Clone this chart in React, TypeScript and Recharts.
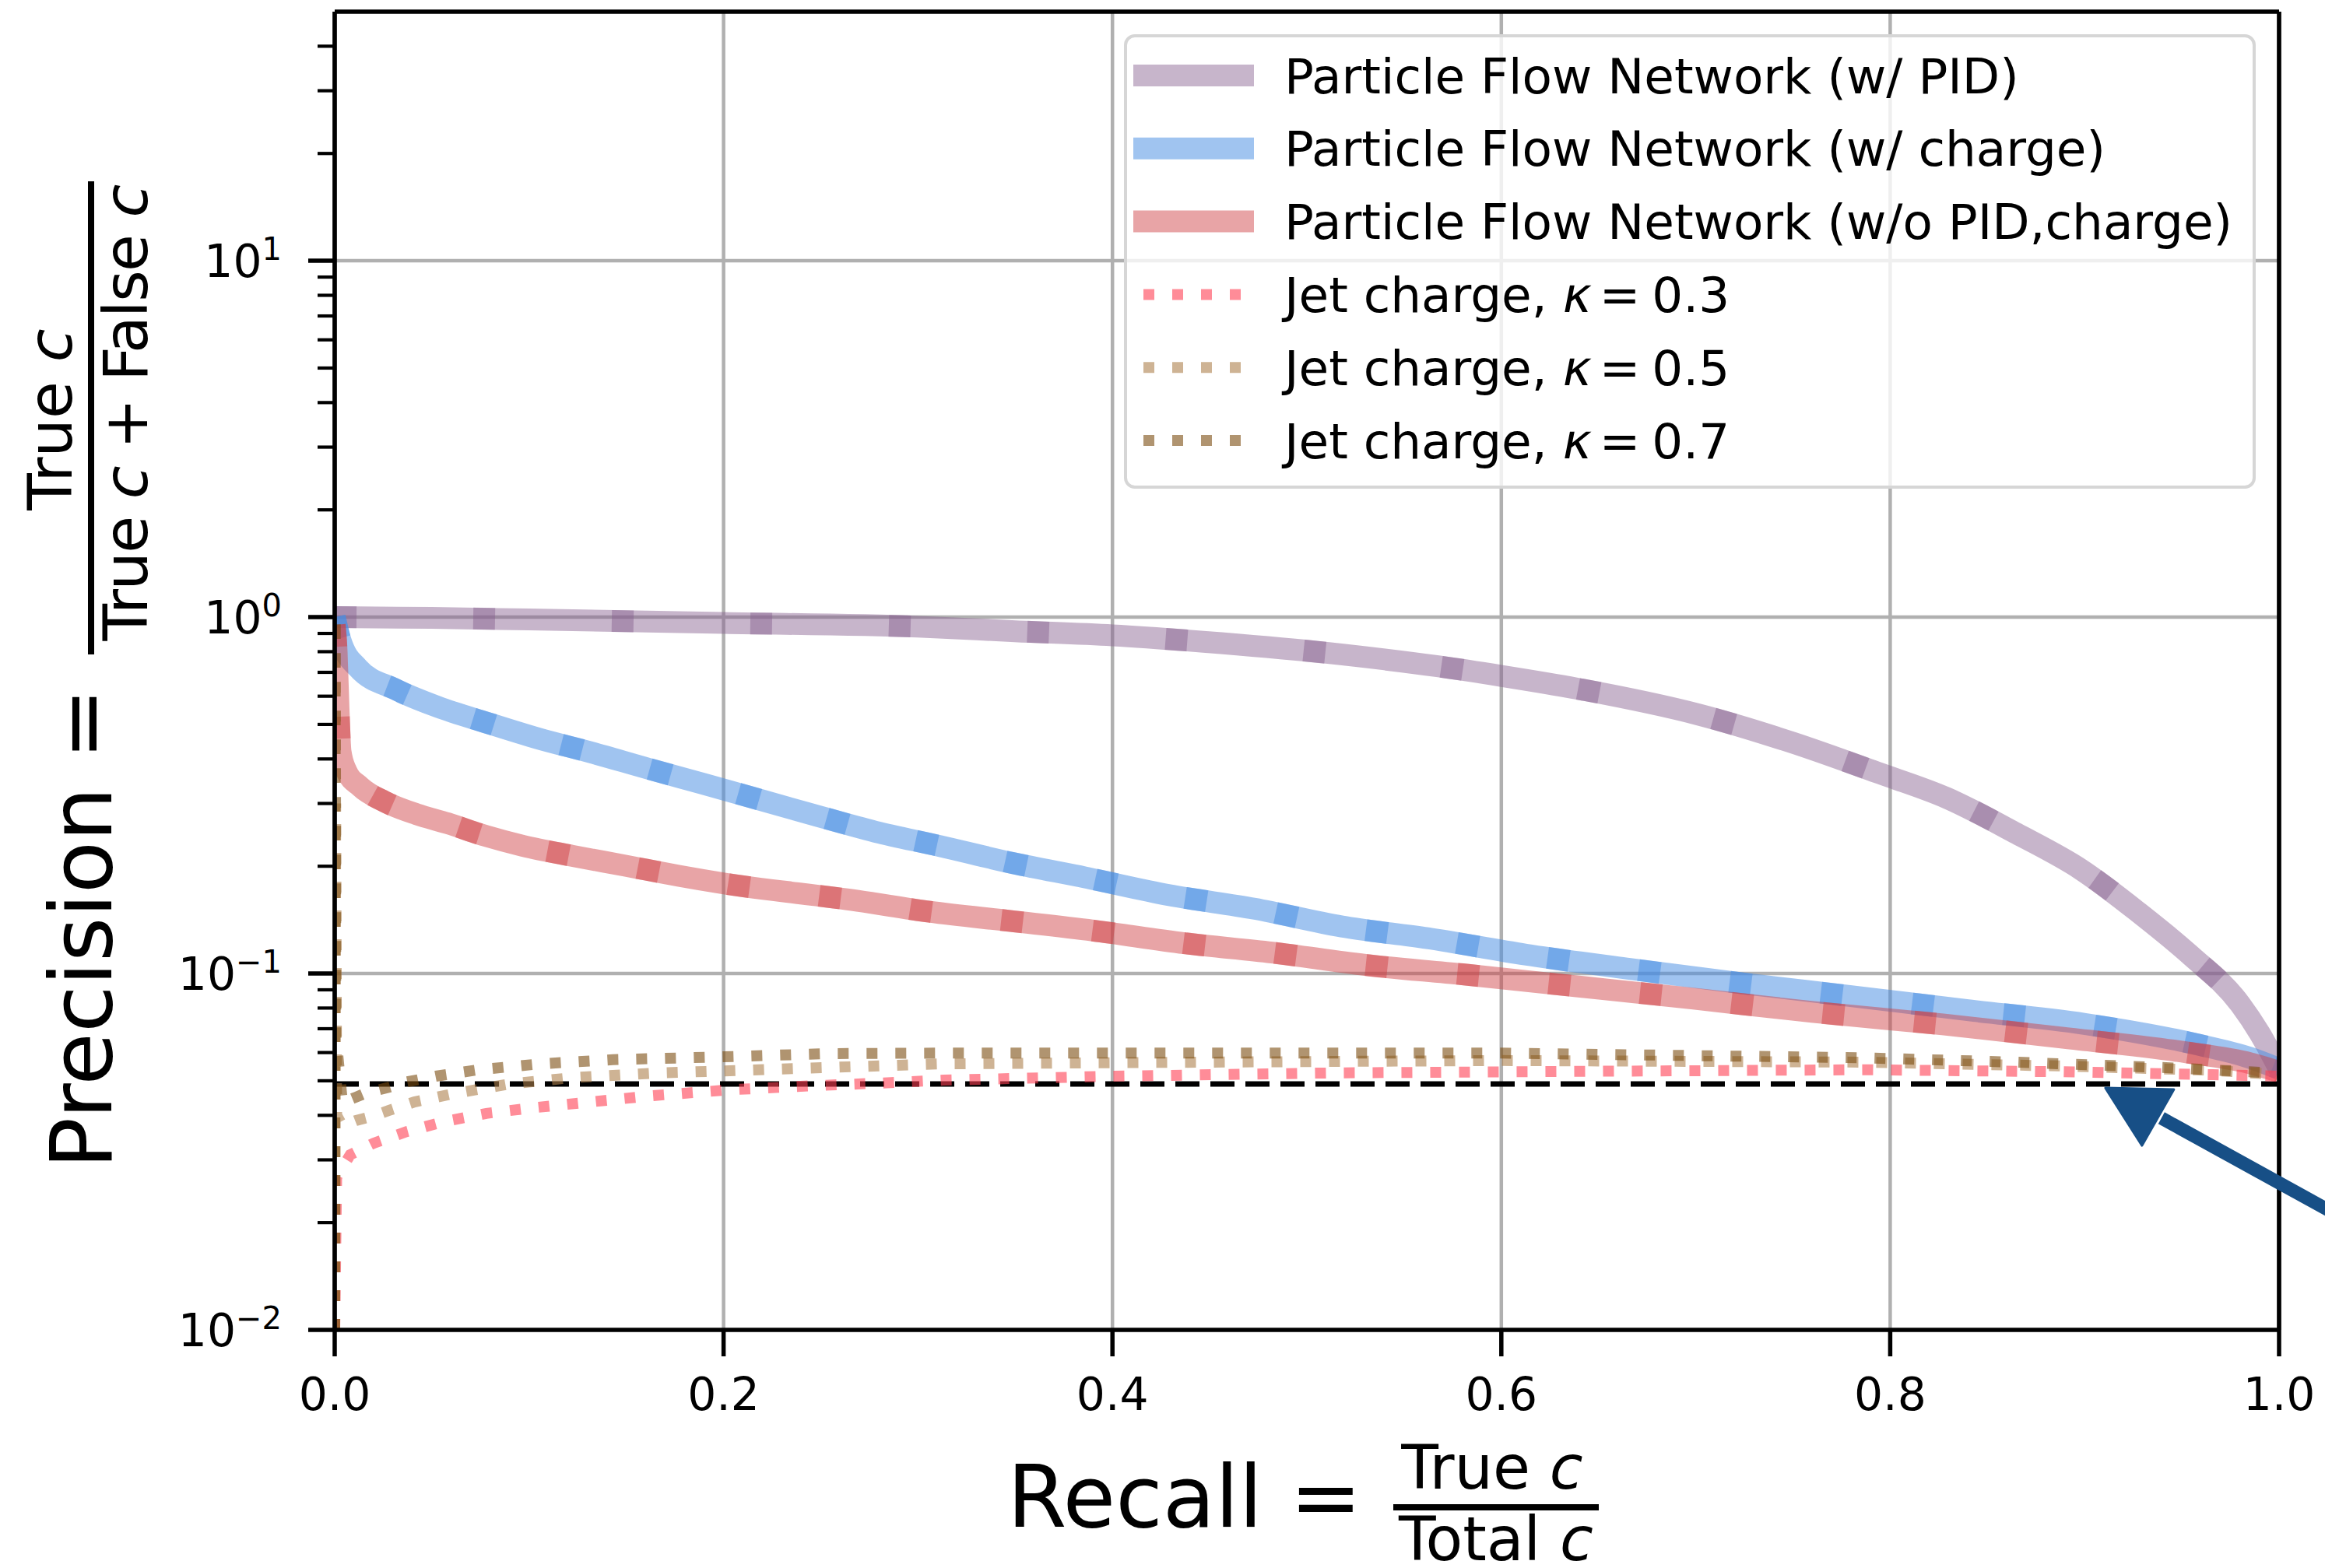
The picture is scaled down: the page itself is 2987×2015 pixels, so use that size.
import React from 'react';
import {
  LineChart,
  Line,
  XAxis,
  YAxis,
  CartesianGrid,
  Legend,
  ReferenceLine,
  ReferenceDot,
  Label
} from 'recharts';

if (typeof document !== 'undefined') {
  document.body.style.margin = '0';
}

const FONT = '"DejaVu Sans", sans-serif';

// ---- data (recall on x, precision on y) ----
const pidRecall = [0, 0.05, 0.1, 0.2, 0.3, 0.35, 0.4, 0.456, 0.512, 0.568, 0.6, 0.639, 0.702, 0.75, 0.793, 0.829, 0.865, 0.898, 0.928, 0.954, 0.98, 0.99, 1.0];
const pidPrecision = [1.0, 0.995, 0.985, 0.963, 0.94, 0.913, 0.889, 0.845, 0.792, 0.727, 0.684, 0.63, 0.532, 0.444, 0.367, 0.311, 0.247, 0.196, 0.148, 0.113, 0.082, 0.068, 0.054];

const chargeRecall = [0, 0.003, 0.012, 0.031, 0.053, 0.078, 0.105, 0.132, 0.161, 0.191, 0.245, 0.278, 0.311, 0.349, 0.386, 0.429, 0.473, 0.518, 0.562, 0.6125, 0.666, 0.723, 0.779, 0.839, 0.9, 0.957, 0.985, 1.0];
const chargePrecision = [1.0, 0.86, 0.72, 0.628, 0.56, 0.506, 0.456, 0.417, 0.376, 0.339, 0.28, 0.25, 0.228, 0.204, 0.186, 0.166, 0.152, 0.1355, 0.1256, 0.113, 0.103, 0.094, 0.0865, 0.079, 0.0722, 0.0634, 0.058, 0.054];

const plainRecall = [0, 0.001, 0.002, 0.003, 0.006, 0.013, 0.026, 0.042, 0.058, 0.078, 0.097, 0.122, 0.149, 0.177, 0.2, 0.269, 0.306, 0.347, 0.39, 0.437, 0.482, 0.53, 0.58, 0.6285, 0.699, 0.76, 0.827, 0.889, 0.953, 0.985, 1.0];
const plainPrecision = [0.95, 0.8, 0.55, 0.42, 0.37, 0.335, 0.303, 0.28, 0.264, 0.243, 0.228, 0.214, 0.201, 0.188, 0.179, 0.16, 0.149, 0.1405, 0.132, 0.1216, 0.1145, 0.1057, 0.0995, 0.0933, 0.085, 0.078, 0.072, 0.066, 0.06, 0.056, 0.053];

const jet03Recall = [0, 0.001, 0.003, 0.008, 0.02, 0.037, 0.057, 0.078, 0.102, 0.133, 0.163, 0.204, 0.245, 0.286, 0.313, 0.4, 0.512, 0.628, 0.787, 0.889, 0.966, 1.0];
const jet03Precision = [0.01, 0.0268, 0.028, 0.031, 0.0334, 0.036, 0.0385, 0.0405, 0.042, 0.0437, 0.0454, 0.0472, 0.0484, 0.0494, 0.0502, 0.0515, 0.0526, 0.0531, 0.0537, 0.053, 0.052, 0.0515];

const jet05Recall = [0, 0.0005, 0.001, 0.004, 0.011, 0.019, 0.028, 0.041, 0.061, 0.09, 0.122, 0.163, 0.2, 0.245, 0.313, 0.45, 0.6, 0.787, 0.889, 0.966, 1.0];
const jet05Precision = [0.01, 0.3, 0.04, 0.0374, 0.0387, 0.0397, 0.0413, 0.0436, 0.046, 0.049, 0.051, 0.0525, 0.0533, 0.0543, 0.0558, 0.0564, 0.057, 0.0564, 0.055, 0.0535, 0.052];

const jet07Recall = [0, 0.0003, 0.0006, 0.004, 0.011, 0.016, 0.027, 0.036, 0.052, 0.074, 0.106, 0.143, 0.2, 0.255, 0.313, 0.45, 0.6, 0.787, 0.864, 0.94, 1.0];
const jet07Precision = [0.01, 1.0, 0.067, 0.0434, 0.045, 0.0462, 0.0478, 0.0495, 0.0515, 0.0537, 0.0558, 0.0573, 0.0584, 0.0596, 0.0598, 0.0598, 0.0598, 0.058, 0.0564, 0.0545, 0.0525];

// dashed horizontal reference (random-guess precision)
const baselineRecall = [0, 1];
const baselinePrecision = [0.049, 0.049];

// blue annotation arrow
const arrowHead = { r: 0.9287, p: 0.0421 };
const arrowShaft = [{ r: 0.9395, p: 0.0393 }, { r: 1.03, p: 0.021 }];

const xTicks = [0, 0.2, 0.4, 0.6, 0.8, 1.0];
const yMajorTicks = [0.01, 0.1, 1, 10];
const yMinorTicks = [
  0.02, 0.03, 0.04, 0.05, 0.06, 0.07, 0.08, 0.09,
  0.2, 0.3, 0.4, 0.5, 0.6, 0.7, 0.8, 0.9,
  2, 3, 4, 5, 6, 7, 8, 9,
  20, 30, 40
];
const yTicks = [...yMajorTicks, ...yMinorTicks].sort((a, b) => a - b);
const xGridValues = [0.2, 0.4, 0.6, 0.8];
const yGridValues = [0.1, 1, 10];

const legendLabels = [
  'Particle Flow Network (w/ PID)',
  'Particle Flow Network (w/ charge)',
  'Particle Flow Network (w/o PID,charge)'
];
const jetKappas = ['0.3', '0.5', '0.7'];

const COLORS = {
  pid: '#886290',
  charge: '#488ee2',
  plain: '#cf4146',
  jet03: '#ff3f53',
  jet05: '#ad804d',
  jet07: '#7b4d11',
  arrow: '#174f86'
};
const bandColors = [COLORS.pid, COLORS.charge, COLORS.plain];
const bandOpacity = [0.47, 0.52, 0.48];
const jetColors = [COLORS.jet03, COLORS.jet05, COLORS.jet07];
const JET_OPACITY = 0.6;

const toPoints = (r: number[], p: number[]) => r.map((x, i) => ({ r: x, p: p[i] }));

const pidData = toPoints(pidRecall, pidPrecision);
const chargeData = toPoints(chargeRecall, chargePrecision);
const plainData = toPoints(plainRecall, plainPrecision);
const jet03Data = toPoints(jet03Recall, jet03Precision);
const jet05Data = toPoints(jet05Recall, jet05Precision);
const jet07Data = toPoints(jet07Recall, jet07Precision);
const baselineData = toPoints(baselineRecall, baselinePrecision);

const BAND_W = 28;
const DOT_W = 14;
const DOTS = '14 23';

// y axis ticks: major ones with 10^n labels, minor ones with short marks
const YTick = (props: any) => {
  const { x, y, payload } = props;
  const v = payload.value as number;
  const major = yMajorTicks.includes(v);
  const axisX = x + 34;
  const len = major ? 34 : 22;
  const e = Math.round(Math.log10(v));
  return (
    <g>
      <line x1={axisX - len} x2={axisX} y1={y} y2={y} stroke="#000" strokeWidth={major ? 5.5 : 4.2} />
      {major && (
        <text x={axisX - 68} y={y + 21} textAnchor="end" fontSize={58.3} fontFamily={FONT} fill="#000">
          10
          <tspan dy={-22} fontSize={40}>{e < 0 ? `\u2212${-e}` : String(e)}</tspan>
        </text>
      )}
    </g>
  );
};

const XAxisTitle = (props: any) => {
  const vb = props.viewBox;
  const cx = vb.x + vb.width / 2;
  const fx = cx + 243;
  return (
    <g fontFamily={FONT} fill="#000">
      <text x={cx - 385} y={vb.y + 253} fontSize={110}>Recall =</text>
      <text x={fx - 5} y={vb.y + 204} fontSize={78} textAnchor="middle">
        True <tspan fontStyle="italic">c</tspan>
      </text>
      <rect x={fx - 132} y={vb.y + 224} width={264} height={8} fill="#000" />
      <text x={fx} y={vb.y + 296} fontSize={78} textAnchor="middle">
        Total <tspan fontStyle="italic">c</tspan>
      </text>
    </g>
  );
};

const YAxisTitle = (props: any) => {
  const vb = props.viewBox;
  const cy = vb.y + vb.height / 2;
  return (
    <g fontFamily={FONT} fill="#000">
      <text transform={`translate(143, ${cy + 640}) rotate(-90)`} fontSize={110}>Precision =</text>
      <text transform={`translate(92, ${cy - 323}) rotate(-90)`} fontSize={78} textAnchor="middle">
        True <tspan fontStyle="italic">c</tspan>
      </text>
      <rect x={113} y={cy - 629} width={8} height={608} fill="#000" />
      <text
        transform={`translate(189, ${cy - 332}) rotate(-90)`}
        fontSize={78}
        textAnchor="middle"
        textLength={587}
        lengthAdjust="spacing"
      >
        True <tspan fontStyle="italic">c</tspan> + False <tspan fontStyle="italic">c</tspan>
      </text>
    </g>
  );
};

const LegendBox = () => {
  const rowY = (i: number) => 51 + i * 93.8;
  return (
    <svg width={1454} height={584} style={{ overflow: 'visible', display: 'block' }}>
      <rect x={2} y={2} width={1450} height={580} rx={12} ry={12} fill="rgba(255,255,255,0.8)" stroke="#d6d6d6" strokeWidth={4} />
      {legendLabels.map((label, i) => (
        <g key={label}>
          <line x1={12} x2={167} y1={rowY(i) + 2} y2={rowY(i) + 2} stroke={bandColors[i]} strokeOpacity={bandOpacity[i]} strokeWidth={BAND_W} />
          <text x={206} y={rowY(i) + 24.5} fontSize={62.8} fontFamily={FONT} fill="#000">{label}</text>
        </g>
      ))}
      {jetKappas.map((k, j) => {
        const i = j + 3;
        return (
          <g key={k}>
            <line x1={25} x2={152} y1={rowY(i) + 2} y2={rowY(i) + 2} stroke={jetColors[j]} strokeOpacity={JET_OPACITY} strokeWidth={DOT_W} strokeDasharray={DOTS} />
            <text x={206} y={rowY(i) + 24.5} fontSize={62.8} fontFamily={FONT} fill="#000">
              Jet charge, <tspan fontStyle="italic">κ</tspan>
              <tspan dx={10}>=</tspan>
              <tspan dx={15}>{k}</tspan>
            </text>
          </g>
        );
      })}
    </svg>
  );
};

const ArrowHead = (props: any) => {
  const { cx, cy } = props;
  if (cx == null || cy == null) return null;
  const pts = [[-45, -25], [43, -23], [2, 49]].map(([dx, dy]) => `${cx + dx},${cy + dy}`).join(' ');
  return <polygon points={pts} fill={COLORS.arrow} stroke={COLORS.arrow} strokeWidth={3} strokeLinejoin="round" />;
};

const App: React.FC = () => {
  return (
    <div style={{ width: 2987, height: 2015, background: '#fff', fontFamily: FONT, position: 'relative' }}>
      <LineChart width={2987} height={2015} margin={{ top: 15, right: 59, bottom: 0, left: 0 }}>
        <CartesianGrid stroke="#b0b0b0" strokeWidth={4.5} horizontalValues={yGridValues} verticalValues={xGridValues} />
        <XAxis
          type="number"
          dataKey="r"
          domain={[0, 1]}
          ticks={xTicks}
          interval={0}
          allowDataOverflow
          height={306}
          tickSize={34}
          tickMargin={28}
          tickFormatter={(v: number) => v.toFixed(1)}
          tick={{ fill: '#000', fontSize: 58.3, fontFamily: FONT }}
          tickLine={{ stroke: '#000', strokeWidth: 5.5 }}
          axisLine={{ stroke: '#000', strokeWidth: 5.7 }}
        >
          <Label content={XAxisTitle} />
        </XAxis>
        <YAxis
          type="number"
          dataKey="p"
          scale="log"
          domain={[0.01, 50]}
          ticks={yTicks}
          interval={0}
          allowDataOverflow
          width={430}
          tickSize={34}
          tickMargin={0}
          tick={<YTick />}
          tickLine={false}
          axisLine={{ stroke: '#000', strokeWidth: 5.7 }}
        >
          <Label content={YAxisTitle} />
        </YAxis>
        <Legend
          layout="vertical"
          align="center"
          verticalAlign="middle"
          content={() => <LegendBox />}
          wrapperStyle={{ left: 1444, top: 44, width: 1454, height: 584 }}
        />

        <Line data={pidData} dataKey="p" type="monotoneX" stroke={COLORS.pid} strokeOpacity={0.47} strokeWidth={BAND_W} dot={false} activeDot={false} isAnimationActive={false} legendType="none" />
        <Line data={pidData} dataKey="p" type="monotoneX" stroke={COLORS.pid} strokeOpacity={0.47} strokeWidth={BAND_W} strokeDasharray="28 150" dot={false} activeDot={false} isAnimationActive={false} legendType="none" />

        <Line data={chargeData} dataKey="p" type="monotoneX" stroke={COLORS.charge} strokeOpacity={0.52} strokeWidth={BAND_W} dot={false} activeDot={false} isAnimationActive={false} legendType="none" />
        <Line data={chargeData} dataKey="p" type="monotoneX" stroke={COLORS.charge} strokeOpacity={0.52} strokeWidth={BAND_W} strokeDasharray="28 90" dot={false} activeDot={false} isAnimationActive={false} legendType="none" />

        <Line data={plainData} dataKey="p" type="monotoneX" stroke={COLORS.plain} strokeOpacity={0.48} strokeWidth={BAND_W} dot={false} activeDot={false} isAnimationActive={false} legendType="none" />
        <Line data={plainData} dataKey="p" type="monotoneX" stroke={COLORS.plain} strokeOpacity={0.48} strokeWidth={BAND_W} strokeDasharray="28 90" dot={false} activeDot={false} isAnimationActive={false} legendType="none" />

        <Line data={baselineData} dataKey="p" type="linear" stroke="#000" strokeWidth={7} strokeDasharray="31 14" dot={false} activeDot={false} isAnimationActive={false} legendType="none" />

        <Line data={jet03Data} dataKey="p" type="linear" stroke={COLORS.jet03} strokeOpacity={JET_OPACITY} strokeWidth={DOT_W} strokeDasharray={DOTS} dot={false} activeDot={false} isAnimationActive={false} legendType="none" />
        <Line data={jet05Data} dataKey="p" type="linear" stroke={COLORS.jet05} strokeOpacity={JET_OPACITY} strokeWidth={DOT_W} strokeDasharray={DOTS} dot={false} activeDot={false} isAnimationActive={false} legendType="none" />
        <Line data={jet07Data} dataKey="p" type="linear" stroke={COLORS.jet07} strokeOpacity={JET_OPACITY} strokeWidth={DOT_W} strokeDasharray={DOTS} dot={false} activeDot={false} isAnimationActive={false} legendType="none" />

        <ReferenceLine x={1} stroke="#000" strokeWidth={5.7} />
        <ReferenceLine y={50} stroke="#000" strokeWidth={5.7} />

        <ReferenceLine
          segment={[{ x: arrowShaft[0].r, y: arrowShaft[0].p }, { x: arrowShaft[1].r, y: arrowShaft[1].p }]}
          stroke={COLORS.arrow}
          strokeWidth={17}
          ifOverflow="visible"
        />
        <ReferenceDot x={arrowHead.r} y={arrowHead.p} r={30} shape={ArrowHead} ifOverflow="visible" />
      </LineChart>
    </div>
  );
};

export default App;
